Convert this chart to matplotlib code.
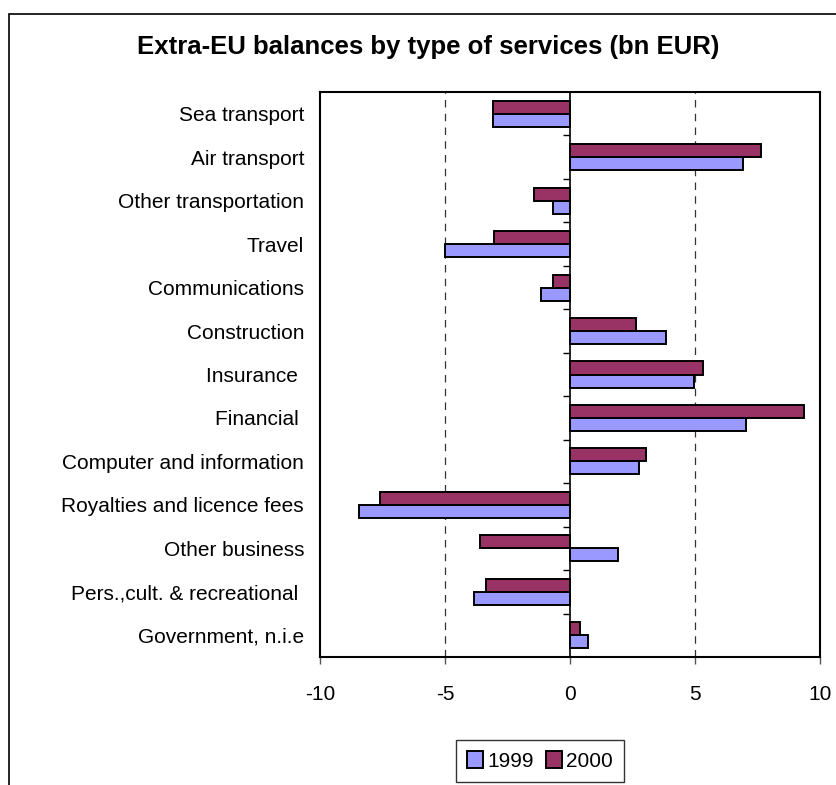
import numpy as np
import matplotlib
matplotlib.use("Agg")
import matplotlib.pyplot as plt
from matplotlib.patches import Rectangle

categories = [
    "Sea transport", "Air transport", "Other transportation", "Travel",
    "Communications", "Construction", "Insurance ", "Financial ",
    "Computer and information", "Royalties and licence fees",
    "Other business", "Pers.,cult. & recreational ", "Government, n.i.e",
]
values_1999 = [-3.1, 6.9, -0.7, -5.0, -1.15, 3.85, 4.95, 7.05, 2.75, -8.45, 1.9, -3.85, 0.7]
values_2000 = [-3.1, 7.65, -1.45, -3.05, -0.7, 2.65, 5.3, 9.35, 3.05, -7.6, -3.6, -3.35, 0.4]
series_names = ["1999", "2000"]
colors = ["#9999FF", "#993366"]
x_ticks = [-10, -5, 0, 5, 10]


def main():
    plt.rcParams["font.family"] = ["Liberation Sans", "DejaVu Sans"]
    W, H = 836, 785
    fig = plt.figure(figsize=(W / 100, H / 100), dpi=100)

    # outer chart frame (cut off at right/bottom like the source)
    fig.patches.append(Rectangle((9 / W, -0.1), 1.2, 1 - 14 / H + 0.1,
                                 transform=fig.transFigure, fill=False,
                                 edgecolor="black", linewidth=1.2))

    ax = fig.add_axes([320 / W, 1 - 657 / H, 500 / W, (657 - 92) / H])

    n = len(categories)
    y = np.arange(n)
    h = 0.3
    ax.barh(y + h / 2, values_1999, height=h, color=colors[0],
            edgecolor="black", linewidth=1.4, label=series_names[0], zorder=3)
    ax.barh(y - h / 2, values_2000, height=h, color=colors[1],
            edgecolor="black", linewidth=1.4, label=series_names[1], zorder=3)

    ax.set_xlim(-10, 10)
    ax.set_ylim(n - 0.5, -0.5)

    # dashed gridlines and zero axis
    for xv in x_ticks[1:-1]:
        if xv == 0:
            ax.axvline(0, color="black", linewidth=1.2, zorder=4)
        else:
            ax.axvline(xv, color="#333333", linewidth=0.9,
                       linestyle=(0, (6, 5)), zorder=1)
    # small category separators on the zero axis
    ax.hlines(np.arange(n - 1) + 0.5, -0.3, 0, color="black",
              linewidth=1.0, zorder=4)

    ax.set_xticks(x_ticks)
    ax.set_xticklabels([str(v) for v in x_ticks])
    ax.tick_params(axis="x", direction="out", length=5, width=1,
                   color="#555555", labelsize=15, pad=15)
    ax.set_yticks(y)
    ax.set_yticklabels(categories)
    ax.tick_params(axis="y", length=0, labelsize=15, pad=11.5)

    for s in ax.spines.values():
        s.set_linewidth(1.5)
        s.set_color("black")

    fig.text(428 / W, 1 - 47 / H, "Extra-EU balances by type of services (bn EUR)",
             ha="center", va="center", fontsize=18.5, fontweight="bold")

    fig.legend(loc="center", bbox_to_anchor=(540 / W, 1 - 761 / H),
               ncol=2, fontsize=15, frameon=True, fancybox=False,
               edgecolor="black", handlelength=0.75, handleheight=0.9,
               handletextpad=0.2, columnspacing=0.6, borderpad=0.55,
               borderaxespad=0)

    fig.savefig("out.png", dpi=100)


if __name__ == "__main__":
    main()
